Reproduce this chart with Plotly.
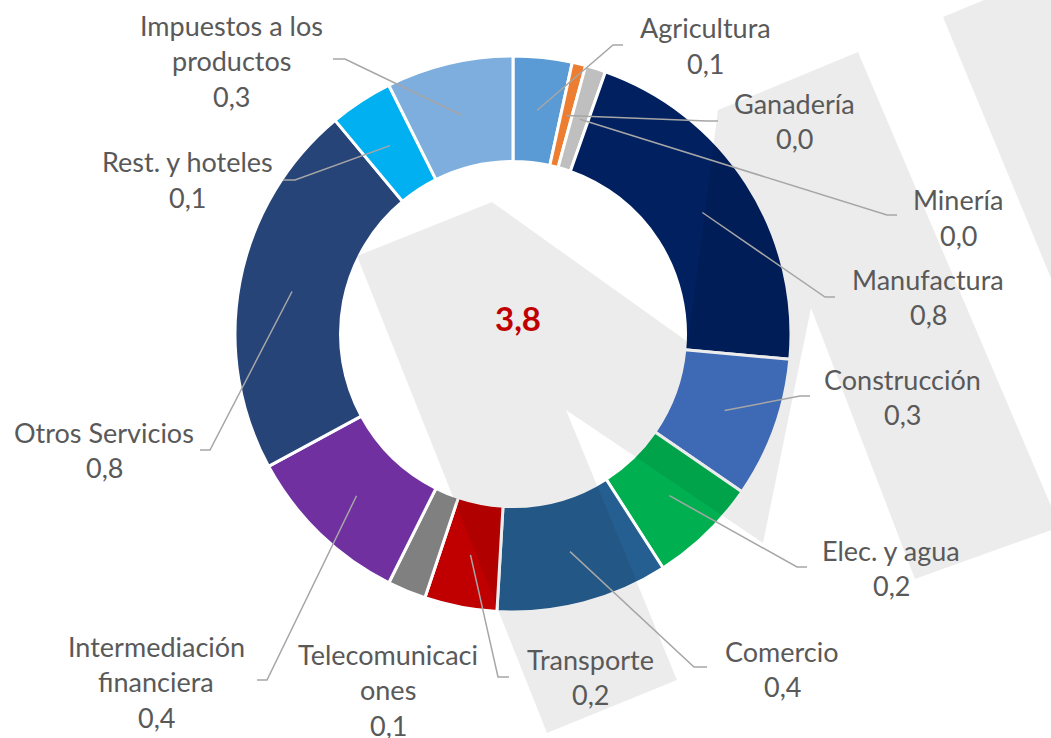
import math
import plotly.graph_objects as go

# ---------------- data ----------------
sectors = ["Agricultura", "Ganadería", "Minería", "Manufactura", "Construcción",
           "Elec. y agua", "Comercio", "Transporte", "Telecomunicaciones",
           "Intermediación financiera", "Otros Servicios", "Rest. y hoteles",
           "Impuestos a los productos"]
values = [0.13, 0.03, 0.045, 0.80, 0.31, 0.24, 0.38, 0.16, 0.085, 0.37, 0.83, 0.14, 0.28]
colors = ["#5B9BD5", "#ED7D31", "#BFBFBF", "#002060", "#4472C4", "#00B050", "#255E91",
          "#C00000", "#808080", "#7030A0", "#264478", "#00B0F0", "#7DAEDE"]
# label text lines as shown on the chart
label_lines = [["Agricultura"], ["Ganadería"], ["Minería"], ["Manufactura"], ["Construcción"],
               ["Elec. y agua"], ["Comercio"], ["Transporte"], ["Telecomunicaci", "ones"],
               ["Intermediación", "financiera"], ["Otros Servicios"], ["Rest. y hoteles"],
               ["Impuestos a los", "productos"]]

# ---------------- layout constants (screen pixels) ----------------
W, H = 1051, 738
OFF = 0                     # page body margin removed below
CX, CY = 513, 334           # donut centre on screen
R_OUT, R_IN = 278, 172.5    # radii incl. half of the white slice border
R_MID = 225
FONT = "Lato"
TXT = "#595959"
LEAD = "#A6A6A6"
LINE_GAP = 35.5

# label placement: (center x, first line y, leader bend point, leader end point)
label_pos = [
    (705, 28, (613, 45), (623, 45)),
    (794, 103.5, (707, 121), (718, 121)),
    (958, 200, (887, 215), (897, 215)),
    (928, 279, (825, 297), (835, 297)),
    (902, 379, (800, 396), (810, 396)),
    (891, 550, (797, 567), (807, 567)),
    (782, 651, (694, 667), (707, 667)),
    (590, 659, (498, 677), (509, 677)),
    (388, 654, None, None),
    (156, 646, (267, 680), (257, 680)),
    (104, 432, (210, 450), (200, 450)),
    (187, 162, (295, 180), (283, 180)),
    (231, 25, (345, 59), (333, 59)),
]


def px(x, y):
    return (x - OFF) / W, 1 - (y - OFF) / H


fig = go.Figure()
cx0, cy0 = px(CX, CY)
fig.add_trace(go.Pie(
    labels=sectors, values=values, sort=False, direction="clockwise", rotation=0,
    hole=R_IN / R_OUT, textinfo="none", hoverinfo="label+value", showlegend=False,
    marker=dict(colors=colors, line=dict(color="white", width=3)),
    domain=dict(x=[cx0 - R_OUT / W, cx0 + R_OUT / W],
                y=[cy0 - R_OUT / H, cy0 + R_OUT / H]),
))

shapes = []


def path_from(points):
    s = ""
    for i, (x, y) in enumerate(points):
        u, v = px(x, y)
        s += ("M" if i == 0 else "L") + f"{u:.5f},{v:.5f} "
    return s


# watermark (light gray logo, multiplied over everything)
wm1 = [(357, 256), (492, 202), (688, 342), (718, 110), (858, 52), (1060, 527), (915, 579),
       (811, 308), (763, 543), (566, 410), (677, 680), (547, 733)]
wm2 = [(943, 17), (984, 0), (1060, 0), (1060, 300)]
for poly in (wm1, wm2):
    shapes.append(dict(type="path", path=path_from(poly) + "Z", xref="paper", yref="paper",
                       fillcolor="rgba(0,0,0,0.075)", line=dict(width=0), layer="above"))

# leader lines from slice mid-angle to labels
total = sum(values)
cum = 0.0
annotations = []
for i, v in enumerate(values):
    mid = (cum + v / 2) / total * 2 * math.pi
    cum += v
    ax = CX + R_MID * math.sin(mid)
    ay = CY - R_MID * math.cos(mid)
    cx, y0, bend, end = label_pos[i]
    if bend is not None:
        shapes.append(dict(type="path", path=path_from([(ax, ay), bend, end]),
                           xref="paper", yref="paper", line=dict(color=LEAD, width=1.5),
                           layer="above"))
    lines = label_lines[i] + [f"{v:.1f}".replace(".", ",")]
    for k, t in enumerate(lines):
        u, w = px(cx, y0 + k * LINE_GAP)
        annotations.append(dict(text=t, x=u, y=w, xref="paper", yref="paper",
                                xanchor="center", yanchor="middle", showarrow=False,
                                font=dict(family=FONT, size=27, color=TXT)))

u, w = px(518, 318)
annotations.append(dict(text="<b>" + f"{total:.1f}".replace(".", ",") + "</b>", x=u, y=w,
                        xref="paper", yref="paper", xanchor="center", yanchor="middle",
                        showarrow=False, font=dict(family=FONT, size=33, color="#C00000")))

fig.update_layout(width=W, height=H, margin=dict(l=0, r=0, t=0, b=0),
                  paper_bgcolor="white", plot_bgcolor="white",
                  shapes=shapes, annotations=annotations)
fig.write_html("out.html", config={"displayModeBar": False},
               post_script="document.body.style.margin='0';"
                           "document.body.style.overflow='hidden';")
